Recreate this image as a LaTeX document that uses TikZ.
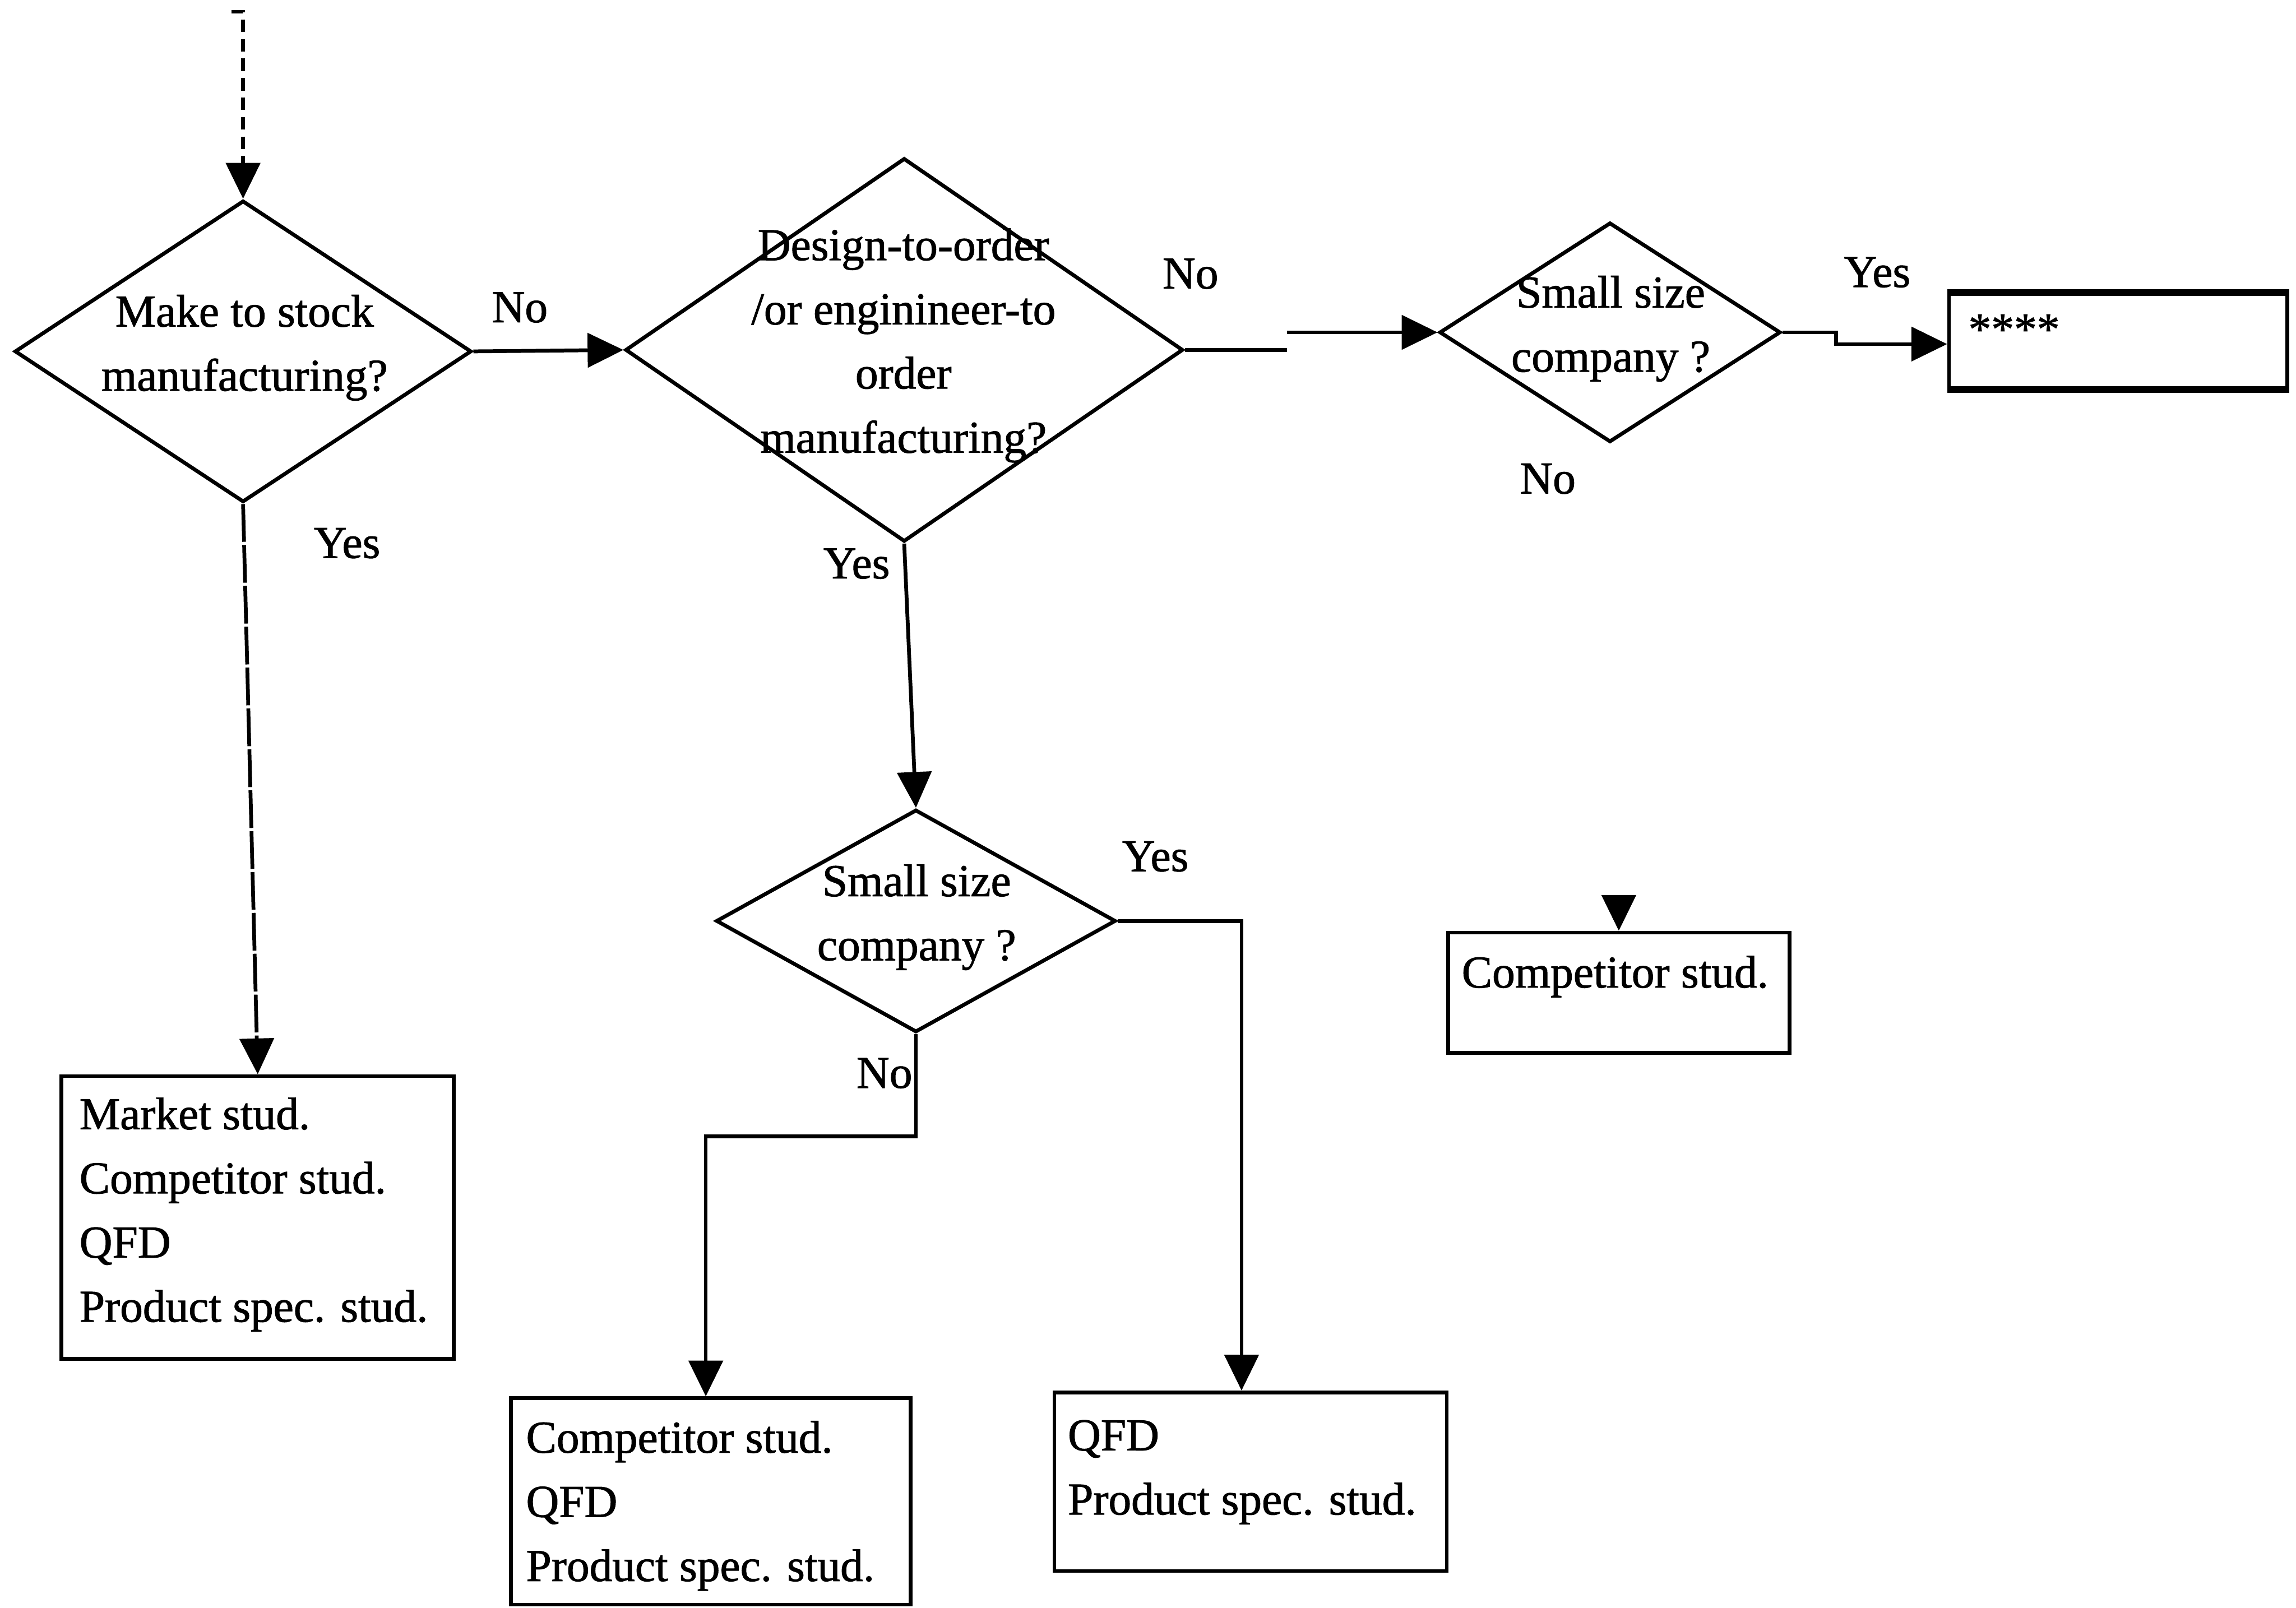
\documentclass[tikz,border=0pt]{standalone}
\usepackage{fontspec}
\setmainfont[FakeBold=1.2]{Liberation Serif}
\usetikzlibrary{shapes.geometric, arrows.meta}

\begin{document}
\begin{tikzpicture}[x=0.016355cm, y=-0.016355cm,
  font=\fontsize{14.5}{20.4}\selectfont,
  line width=1.2pt,
  decision/.style={draw, diamond, inner sep=0pt},
  stepbox/.style={draw, rectangle, inner sep=0pt},
  txt/.style={align=center, inner sep=0pt},
  boxtxt/.style={align=left, anchor=west, inner sep=0pt},
  lbl/.style={inner sep=0pt},
  arr/.style={-{Triangle[length=0.4cm, width=0.38cm]}},
]
\useasboundingbox (0,0) rectangle (1568,1098);

% decisions
\node[decision, minimum width=5.103cm, minimum height=3.369cm] (d1) at (166,240) {};
\node[txt] (t1) at (167,237.5) {Make to stock\\manufacturing?};

\node[decision, minimum width=6.231cm, minimum height=4.285cm] (d2) at (617.5,239) {};
\node[txt] (t2) at (617,236) {Design-to-order\\/or enginineer-to\\order\\manufacturing?};

\node[decision, minimum width=3.811cm, minimum height=2.453cm] (d3) at (1099.5,227) {};
\node[txt] (t3) at (1100,224.5) {Small size\\company ?};

\node[decision, minimum width=4.465cm, minimum height=2.486cm] (d4) at (625.5,629) {};
\node[txt] (t4) at (626,626.5) {Small size\\company ?};

% result boxes
\node[stepbox, minimum width=4.383cm, minimum height=3.157cm] (b1) at (176,831.5) {};
\node[boxtxt] (b1t) at (53,829.5) {Market stud.\\Competitor stud.\\QFD\\Product spec. stud.};

\node[stepbox, minimum width=4.465cm, minimum height=2.306cm] (b2) at (485.5,1025.5) {};
\node[boxtxt] (b2t) at (358,1028.5) {Competitor stud.\\QFD\\Product spec. stud.};

\node[stepbox, minimum width=4.383cm, minimum height=1.995cm] (b3) at (854,1012) {};
\node[boxtxt] (b3t) at (728,1005.5) {QFD\\Product spec. stud.};

\node[stepbox, minimum width=3.811cm, minimum height=1.341cm] (b4) at (1105.5,678) {};
\node[boxtxt] (b4t) at (997,667) {Competitor stud.};

\node[stepbox, minimum width=3.778cm, minimum height=1.047cm] (b5) at (1446.5,233) {};
\draw[line width=1.9pt] (b5.north west) -- (b5.north east) (b5.south west) -- (b5.south east);
\node[boxtxt] (b5t) at (1343,225) {****};

% branch labels
\node[lbl] (no1) at (355,210) {No};
\node[lbl] (no2) at (813,187) {No};
\node[lbl] (yes3) at (1282,186) {Yes};
\node[lbl] (no3) at (1057,327) {No};
\node[lbl] (yes1) at (237,371) {Yes};
\node[lbl] (yes2) at (585,385) {Yes};
\node[lbl] (yes4) at (789,585) {Yes};
\node[lbl] (no4) at (604,733) {No};

% connectors
\coordinate (tick) at (158,8);
\coordinate (entry) at (166,8);
\draw[arr, dash pattern=on 4pt off 2.2pt] (tick) -- (entry) -- (d1.north);

\draw[arr, dash pattern=on 12pt off 1pt] (d1.south) -- (b1.north);

\draw[arr] (d1.east) -- (d2.west);

\coordinate (s1) at (879,239);
\coordinate (s2) at (879,227);
\draw[arr] (d2.east) -- (s1) (s2) -- (d3.west);

\coordinate (s3) at (1254,235);
\draw[arr] (d3.east) -| (s3) -- (s3 -| b5.west);

\coordinate (n3) at (1105.5,612);
\draw[arr] (n3) -- (b4.north);

\draw[arr] (d2.south) -- (d4.north);

\draw[arr] (d4.east) -| ([xshift=-0.1cm]b3.north);

\coordinate (kink) at (482,776);
\draw[arr] (d4.south) |- (kink) -- (kink |- b2.north);

\end{tikzpicture}
\end{document}
